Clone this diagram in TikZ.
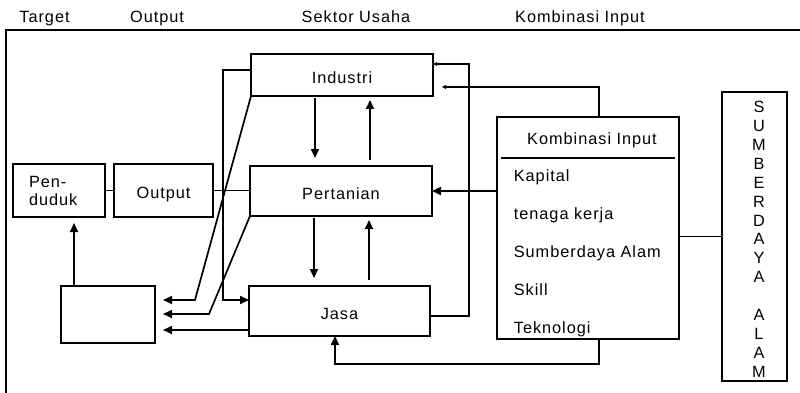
\documentclass[tikz,border=0pt]{standalone}
\usepackage{fontspec}
\setmainfont[LetterSpace=6]{Liberation Sans}
\usetikzlibrary{arrows.meta}

\tikzset{
  kotak/.style={draw,inner sep=0pt,outer sep=0pt,text height=16.7pt,text depth=0pt},
  panah/.style={-{Triangle[length=9pt,width=8pt]}},
  panahkecil/.style={-{Triangle[length=4pt,width=4pt]}},
}

\begin{document}
\begin{tikzpicture}[x=1pt,y=-1pt,line width=1.7pt,font=\fontsize{16.3pt}{18pt}\selectfont]
  \useasboundingbox (0,0) rectangle (800,393);
  % kerangka dan judul kolom
  \draw (6,393)--(6,30)--(800,30);
  \node[anchor=base] (jTarget) at (44.5,23) {Target};
  \node[anchor=base] (jOutput) at (157,23) {Output};
  \node[anchor=base] (jSektor) at (356,23) {Sektor Usaha};
  \node[anchor=base] (jInput) at (580,23) {Kombinasi Input};

  % kotak-kotak
  \node[kotak,minimum width=182pt,minimum height=42pt] (industri) at (342,75) {Industri};
  \node[kotak,minimum width=182pt,minimum height=50pt] (pertanian) at (341,191) {Pertanian};
  \node[kotak,minimum width=181pt,minimum height=50pt] (jasa) at (339.5,311) {Jasa};
  \node[draw,inner sep=0pt,outer sep=0pt,minimum width=92pt,minimum height=53pt,align=left,text width=60pt] (penduduk) at (59,190.5) {Pen-\\duduk};
  \node[kotak,minimum width=99pt,minimum height=53pt] (output) at (163.5,190.5) {Output};
  \node[kotak,minimum width=94pt,minimum height=57pt] (kosong) at (108,314.5) {};
  \node[kotak,minimum width=182pt,minimum height=222pt] (kombinasi) at (588,228) {};
  \node[kotak,minimum width=65pt,minimum height=289pt] (sda) at (754.5,236.5) {};

  % isi kombinasi input
  \node[anchor=base] (judulKI) at (592,145) {Kombinasi Input};
  \draw (501,158) -- (675,158);
  \foreach \t [count=\i from 0] in {Kapital,tenaga kerja,Sumberdaya Alam,Skill,Teknologi}
    \node[anchor=base west,inner xsep=0pt] (item\i) at (513,{181+38*\i}) {\t};
  \foreach \h [count=\i from 0] in {S,U,M,B,E,R,D,A,Y,A,{},A,L,A,M}
    \node (huruf\i) at (759,{107+18.9*\i}) {\h};

  % ujung panah bebas
  \coordinate (t1) at (163,300);
  \coordinate (t2) at (163,314);
  \coordinate (t3) at (163,330);
  \coordinate (t4) at (442,87);

  % garis penghubung
  \draw (penduduk) -- (output);
  \draw (output.east) -- (output.east -| pertanian.west);
  \draw[panah] ([yshift=5pt]industri.west) -- ++(-28,0) |- ([yshift=11pt]jasa.west);
  \draw[panah] (industri.south west) -- ++(-56,204) -- (t1);
  \draw[panah] (pertanian.south west) -- ++(-41,98) -- (t2);
  \draw[panah] (t3 -| jasa.west) -- (t3);
  \draw[panah,shorten >=6pt] ([xshift=-34pt]kosong.north) -- ([xshift=-34pt]kosong.north |- penduduk.south);
  \foreach \a/\b in {industri/pertanian,pertanian/jasa}{
    \draw[panah,shorten <=2pt,shorten >=8pt] ([xshift=-27pt]\a.south) -- ([xshift=-27pt]\a.south |- \b.north);
    \draw[panah,shorten <=6pt,shorten >=4pt] ([xshift=28pt]\a.south |- \b.north) -- ([xshift=28pt]\a.south);
  }
  \draw[panah] (pertanian.east -| kombinasi.west) -- (pertanian.east);
  \draw[panahkecil] ([yshift=-5pt]jasa.east) -- ++(39,0) |- ([yshift=11pt]industri.east);
  \draw[panahkecil] ([xshift=11pt]kombinasi.north) |- (t4);
  \draw[panah] ([xshift=11pt]kombinasi.south) -- ++(0,25) -| ([xshift=-4.5pt]jasa.south);
  \draw (kombinasi.east |- sda.west) -- (sda.west);
\end{tikzpicture}
\end{document}
